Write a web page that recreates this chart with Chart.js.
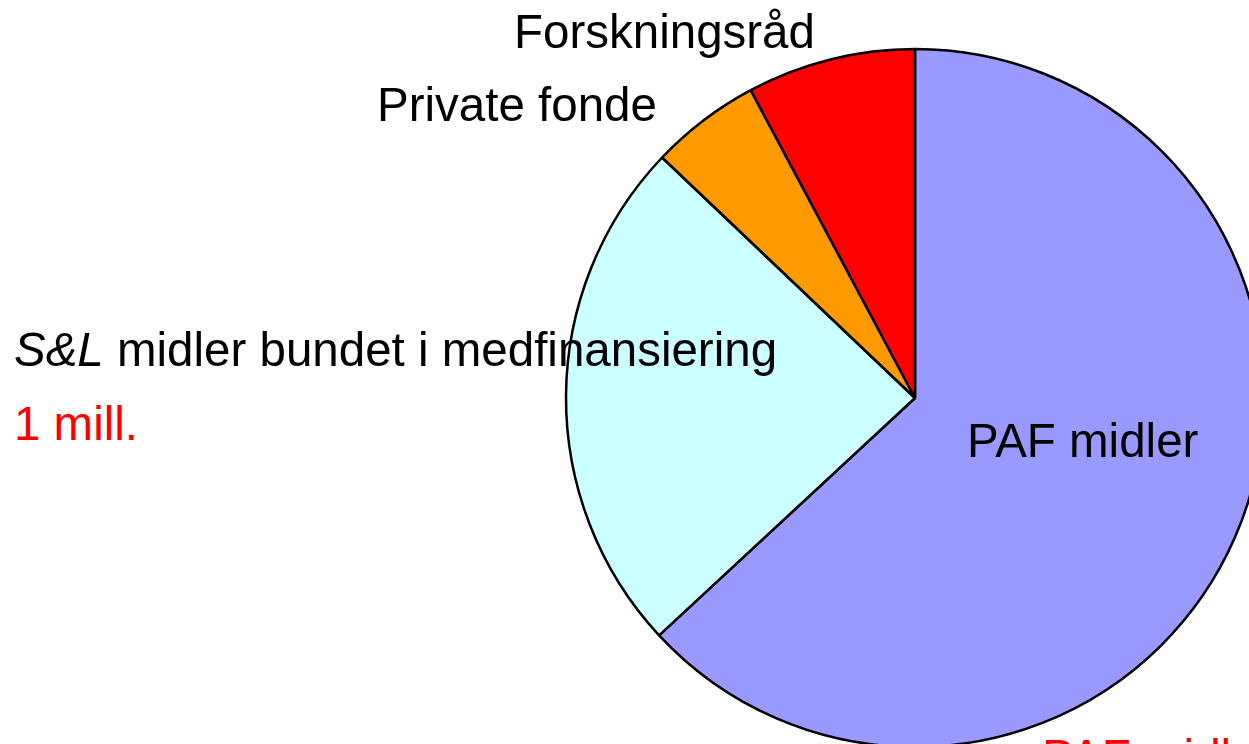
<!DOCTYPE html>
<html>
<head>
<meta charset="utf-8">
<script src="https://cdn.jsdelivr.net/npm/chart.js@4"></script>
<style>
  html, body { margin: 0; padding: 0; background: #fff; overflow: hidden; width: 1249px; height: 744px; }
  #wrap { position: absolute; left: 555px; top: 38px; width: 720px; height: 720px; }
  .lbl { position: absolute; white-space: nowrap; font-family: "Liberation Sans", Arial, sans-serif;
         font-size: 47.5px; line-height: 47px; color: #000; z-index: 2; }
  .red { color: #ff0000; }
</style>
</head>
<body>
<div id="wrap"><canvas id="pie" width="720" height="720"></canvas></div>

<div class="lbl" style="left:514px; top:8px;">Forskningsråd</div>
<div class="lbl" style="left:377px; top:81px;">Private fonde</div>
<div class="lbl" style="left:14px; top:326px;"><i>S&amp;L</i> midler bundet i medfinansiering</div>
<div class="lbl red" style="left:14px; top:400px;">1 mill.</div>
<div class="lbl" style="left:967px; top:417px;">PAF midler</div>
<div class="lbl red" style="left:1042px; top:733px;">PAF midler</div>

<script>
// andeler, med uret fra toppen
const categories = ['PAF midler', 'S&L midler bundet i medfinansiering', 'Private fonde', 'Forskningsråd'];
const shares = [63.1, 24.0, 5.1, 7.8];
const sliceColors = ['#9999ff', '#ccffff', '#ff9900', '#ff0000'];

document.addEventListener('DOMContentLoaded', function () {
    const ctx = document.getElementById('pie');
    new Chart(ctx.getContext('2d'), {
        type: 'pie',
        data: {
            labels: categories,
            datasets: [{
                data: shares,
                backgroundColor: sliceColors,
                borderColor: '#000',
                borderWidth: 2.5
            }]
        },
        options: {
            responsive: false,
            animation: false,
            radius: 349,
            layout: { padding: 0 },
            plugins: {
                legend: { display: false },
                tooltip: { enabled: false }
            }
        }
    });
});
</script>
</body>
</html>
